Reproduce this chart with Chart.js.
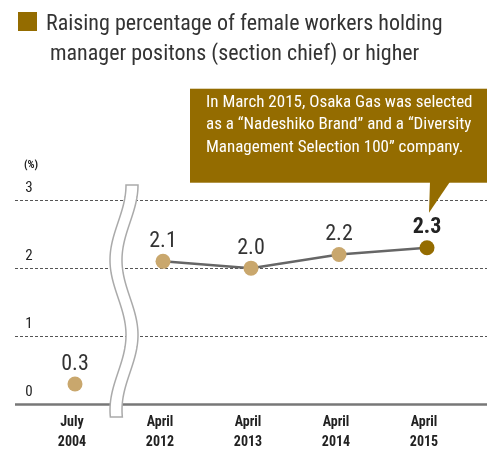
<!DOCTYPE html>
<html>
<head>
<meta charset="utf-8">
<script src="https://cdn.jsdelivr.net/npm/chart.js@4.4.1/dist/chart.umd.min.js"></script>
<style>
  html, body { margin: 0; padding: 0; background: #fff; }
  #wrap { position: relative; width: 487px; height: 450px; }
</style>
</head>
<body>
<div id="wrap"><canvas id="myChart" width="487" height="450"></canvas></div>
<script>
var months = ['July', 'April', 'April', 'April', 'April'];
var years = ['2004', '2012', '2013', '2014', '2015'];
var ratios = [0.3, 2.1, 2.0, 2.2, 2.3];
var yTicks = [0, 1, 2, 3];
var titleLines = ['Raising percentage of female workers holding', 'manager positons (section chief) or higher'];
var noteLines = [
   'In March 2015, Osaka Gas was selected',
   'as a \u201cNadeshiko Brand\u201d and a \u201cDiversity',
   'Management Selection 100\u201d company.'
];

var GOLD = '#946c00';
var TAN = '#c9a76d';
var FONT = '"Liberation Sans Narrow", "Roboto Condensed", "DejaVu Sans Condensed", "Liberation Sans", sans-serif';

var labels = months.map(function(m, i) { return m + ' ' + years[i]; });

var decorations = {
   id: 'decorations',
   beforeDatasetsDraw: function(chart) {
      var ctx = chart.ctx;
      var y = chart.scales.y;
      var x = chart.scales.x;
      var w = chart.width;

      // dashed grid lines
      ctx.save();
      ctx.strokeStyle = '#555';
      ctx.lineWidth = 1;
      ctx.setLineDash([3, 2]);
      yTicks.forEach(function(v) {
         if (v === 0) return;
         var py = Math.round(y.getPixelForValue(v)) + 0.5;
         ctx.beginPath();
         ctx.moveTo(15, py);
         ctx.lineTo(w, py);
         ctx.stroke();
      });
      ctx.setLineDash([]);

      // baseline
      var by = y.getPixelForValue(0);
      ctx.strokeStyle = '#777';
      ctx.lineWidth = 2.5;
      ctx.beginPath();
      ctx.moveTo(15, by);
      ctx.lineTo(w, by);
      ctx.stroke();

      // wavy axis break between the first two periods
      var mid = (x.getPixelForValue(0) + x.getPixelForValue(1)) / 2 + 5;
      var top = y.getPixelForValue(3) - 15;
      var bot = by + 13;
      var half = 6;
      var left = [], right = [];
      for (var yy = top; yy <= bot; yy += 2) {
         var cx = mid + 8 * Math.cos(2 * Math.PI * (yy - top) / 150);
         left.push([cx - half, yy]);
         right.push([cx + half, yy]);
      }
      ctx.beginPath();
      left.forEach(function(p, i) { i ? ctx.lineTo(p[0], p[1]) : ctx.moveTo(p[0], p[1]); });
      for (var i = right.length - 1; i >= 0; i--) ctx.lineTo(right[i][0], right[i][1]);
      ctx.closePath();
      ctx.fillStyle = '#fff';
      ctx.fill();
      ctx.strokeStyle = '#aaa';
      ctx.lineWidth = 1.5;
      ctx.stroke();
      ctx.restore();
   },
   afterDatasetsDraw: function(chart) {
      var ctx = chart.ctx;
      var y = chart.scales.y;
      var x = chart.scales.x;
      var meta = chart.getDatasetMeta(0);

      ctx.save();
      ctx.textBaseline = 'middle';

      // title
      ctx.fillStyle = GOLD;
      ctx.fillRect(18, 12, 19, 19);
      ctx.fillStyle = '#333';
      ctx.textAlign = 'left';
      ctx.font = '22px ' + FONT;
      ctx.fillText(titleLines[0], 46, 24);
      ctx.fillText(titleLines[1], 50, 54);

      // y tick labels
      ctx.fillStyle = '#222';
      ctx.font = 'bold 11px ' + FONT;
      ctx.textAlign = 'center';
      ctx.fillText('(%)', 31, 165);
      ctx.font = '15px ' + FONT;
      yTicks.forEach(function(v) {
         ctx.fillText(String(v), 29, y.getPixelForValue(v) - 12);
      });

      // x tick labels
      ctx.font = 'bold 14px ' + FONT;
      months.forEach(function(m, i) {
         var px = x.getPixelForValue(i) - 3;
         ctx.fillText(m, px, 422);
         ctx.fillText(years[i], px, 442);
      });

      // value labels
      meta.data.forEach(function(pt, i) {
         var last = i === ratios.length - 1;
         ctx.font = (last ? 'bold ' : '') + '22px ' + FONT;
         ctx.fillStyle = last ? '#222' : '#333';
         ctx.fillText(ratios[i].toFixed(1), pt.x, pt.y - 20);
      });

      // callout pointing at the latest value
      var lp = meta.data[meta.data.length - 1];
      var boxBottom = lp.y - 65;
      var boxTop = boxBottom - 94;
      ctx.fillStyle = GOLD;
      ctx.fillRect(190, boxTop, chart.width - 190, boxBottom - boxTop);
      ctx.beginPath();
      ctx.moveTo(lp.x + 3, boxBottom - 1);
      ctx.lineTo(lp.x + 23, boxBottom - 1);
      ctx.lineTo(lp.x + 2, lp.y - 35);
      ctx.closePath();
      ctx.fill();
      ctx.fillStyle = '#fff';
      ctx.textAlign = 'left';
      ctx.font = '17px ' + FONT;
      noteLines.forEach(function(t, i) {
         ctx.fillText(t, 206, boxTop + 14 + i * 22.5);
      });
      ctx.restore();
   }
};

new Chart(document.getElementById('myChart').getContext('2d'), {
   type: 'line',
   data: {
      labels: labels,
      datasets: [{
         data: ratios,
         borderColor: '#666',
         borderWidth: 2.5,
         segment: {
            borderColor: function(c) { return c.p0DataIndex === 0 ? 'rgba(0,0,0,0)' : '#666'; }
         },
         pointRadius: 7.5,
         pointHoverRadius: 7.5,
         pointBorderWidth: 0,
         pointBackgroundColor: ratios.map(function(v, i) { return i === ratios.length - 1 ? GOLD : TAN; }),
         tension: 0,
         clip: false
      }]
   },
   options: {
      responsive: false,
      animation: false,
      devicePixelRatio: 1,
      layout: { padding: { top: 200, bottom: 45.5, left: 31, right: 16 } },
      plugins: { legend: { display: false }, tooltip: { enabled: false } },
      scales: {
         x: { display: false, offset: true },
         y: { display: false, min: 0, max: 3 }
      }
   },
   plugins: [decorations]
});
</script>
</body>
</html>
